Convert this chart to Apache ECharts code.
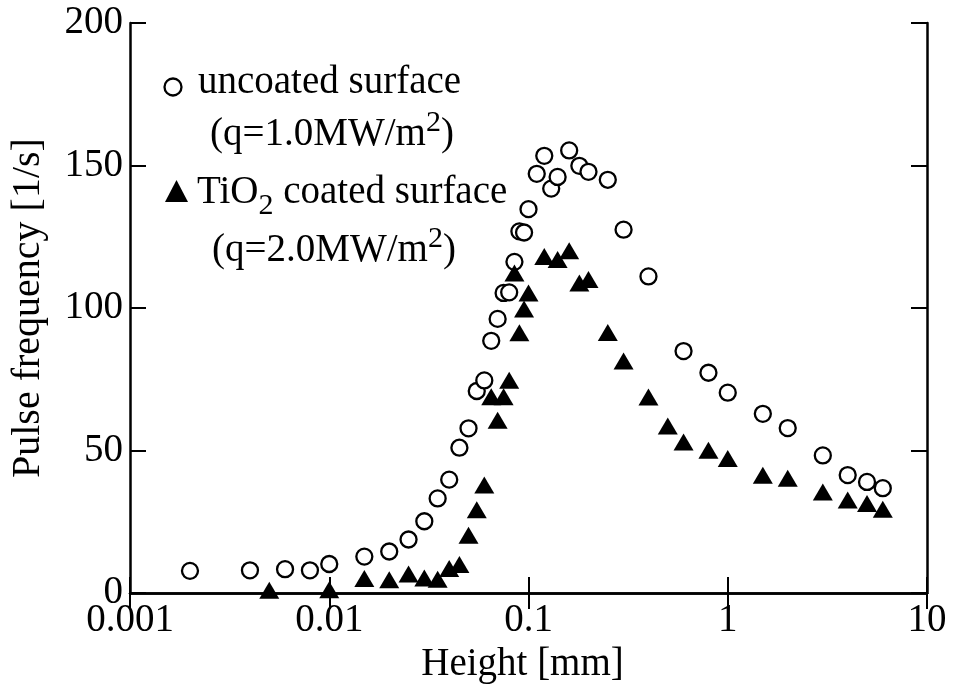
<!DOCTYPE html>
<html>
<head>
<meta charset="utf-8">
<title>Pulse frequency vs height</title>
<script src="https://cdn.jsdelivr.net/npm/echarts@6/dist/echarts.min.js"></script>
<style>
  html, body { margin: 0; padding: 0; background: #fff; }
  #chart { width: 953px; height: 689px; }
</style>
</head>
<body>
<div id="chart"></div>
<script>
// uncoated surface (q=1.0MW/m2)
var uncoatedX = [0.002, 0.004, 0.006, 0.008, 0.01, 0.015, 0.02, 0.025, 0.03, 0.035, 0.04, 0.045, 0.05, 0.055, 0.06, 0.065, 0.07, 0.075, 0.08, 0.085, 0.09, 0.095, 0.1, 0.11, 0.12, 0.13, 0.14, 0.16, 0.18, 0.2, 0.25, 0.3, 0.4, 0.6, 0.8, 1, 1.5, 2, 3, 4, 5, 6];
var uncoatedY = [7.8, 8, 8.4, 8, 10.2, 12.8, 14.6, 18.8, 25.2, 33.2, 39.8, 51, 57.8, 70.9, 74.6, 88.5, 96.2, 105.3, 105.5, 116.2, 126.9, 126.5, 134.7, 147.1, 153.4, 141.9, 146, 155.3, 149.9, 147.8, 145, 127.5, 111.1, 84.9, 77.3, 70.3, 62.9, 57.9, 48.3, 41.4, 39, 36.8];
// TiO2 coated surface (q=2.0MW/m2)
var coatedX = [0.005, 0.01, 0.015, 0.02, 0.025, 0.03, 0.035, 0.04, 0.045, 0.05, 0.055, 0.06, 0.065, 0.07, 0.075, 0.08, 0.085, 0.09, 0.095, 0.1, 0.12, 0.14, 0.16, 0.18, 0.2, 0.25, 0.3, 0.4, 0.5, 0.6, 0.8, 1, 1.5, 2, 3, 4, 5, 6];
var coatedY = [1, 1.2, 5.1, 4.7, 6.7, 5.3, 4.9, 8.6, 10, 20.3, 29.2, 37.9, 68.9, 60.6, 68.9, 74.7, 112.3, 91.3, 99.7, 105.3, 118.1, 117, 120.1, 108.8, 110, 91.4, 81.4, 68.8, 58.6, 53, 50.1, 47.2, 41.3, 40.3, 35.5, 32.7, 31.4, 29.4];
// tick labels
var xTickLabels = ['0.001', '0.01', '0.1', '1', '10'];
var yTickLabels = ['0', '50', '100', '150', '200'];

var FONT = '"Liberation Serif", "Times New Roman", serif';
var FS = 39;

function pairs(xs, ys) {
  return xs.map(function (x, i) { return [x, ys[i]]; });
}

var chart = echarts.init(document.getElementById('chart'));

var axisLine = { show: true, lineStyle: { color: '#000', width: 2.5 } };
var axisTick = { show: true, inside: true, length: 16, lineStyle: { color: '#000', width: 2 } };

var option = {
  backgroundColor: '#fff',
  animation: false,
  grid: { left: 130, right: 26, top: 23, bottom: 95, containLabel: false },
  xAxis: [
    {
      type: 'log',
      logBase: 10,
      min: 0.001,
      max: 10,
      position: 'bottom',
      name: 'Height [mm]',
      nameLocation: 'middle',
      nameGap: 50,
      nameTextStyle: { fontFamily: FONT, fontSize: FS, color: '#000', padding: [0, 12, 0, 0] },
      axisLine: axisLine,
      axisTick: axisTick,
      minorTick: { show: false },
      splitLine: { show: false },
      axisLabel: {
        color: '#000', fontFamily: FONT, fontSize: FS, margin: 8,
        formatter: function (v) { return xTickLabels[Math.round(Math.log10(v)) + 3]; }
      }
    },
    {
      type: 'log',
      logBase: 10,
      min: 0.001,
      max: 10,
      position: 'top',
      axisLine: axisLine,
      axisTick: axisTick,
      splitLine: { show: false },
      axisLabel: { show: false }
    }
  ],
  yAxis: [
    {
      type: 'value',
      min: 0,
      max: 200,
      interval: 50,
      position: 'left',
      name: 'Pulse frequency [1/s]',
      nameLocation: 'middle',
      nameGap: 82,
      nameTextStyle: { fontFamily: FONT, fontSize: FS + 1, color: '#000' },
      axisLine: axisLine,
      axisTick: axisTick,
      splitLine: { show: false },
      axisLabel: {
        color: '#000', fontFamily: FONT, fontSize: FS, margin: 7,
        formatter: function (v) { return yTickLabels[Math.round(v / 50)]; }
      }
    },
    {
      type: 'value',
      min: 0,
      max: 200,
      interval: 50,
      position: 'right',
      axisLine: axisLine,
      axisTick: axisTick,
      splitLine: { show: false },
      axisLabel: { show: false }
    }
  ],
  series: [
    {
      name: 'uncoated surface',
      type: 'scatter',
      xAxisIndex: 0,
      yAxisIndex: 0,
      clip: false,
      symbol: 'circle',
      symbolSize: 16,
      itemStyle: { color: '#fff', borderColor: '#000', borderWidth: 2.3, opacity: 1 },
      data: pairs(uncoatedX, uncoatedY)
    },
    {
      name: 'TiO2 coated surface',
      type: 'scatter',
      xAxisIndex: 0,
      yAxisIndex: 0,
      clip: false,
      symbol: 'triangle',
      symbolSize: [20, 17],
      itemStyle: { color: '#000', opacity: 1 },
      data: pairs(coatedX, coatedY)
    }
  ],
  graphic: [
    // legend icons
    { type: 'circle', shape: { cx: 173, cy: 87, r: 8.5 }, style: { fill: '#fff', stroke: '#000', lineWidth: 2.3 } },
    { type: 'polygon', shape: { points: [[176.5, 180], [188, 202], [165, 202]] }, style: { fill: '#000' } },
    // legend texts
    {
      type: 'text', x: 198, y: 83,
      style: { text: 'uncoated surface', fontFamily: FONT, fontSize: FS, fill: '#000', verticalAlign: 'middle' }
    },
    {
      type: 'text', x: 210, y: 135,
      style: {
        text: '{n|(q=1.0MW/m}{sup|2}{n|)}', fontFamily: FONT, fontSize: FS, fill: '#000', verticalAlign: 'middle',
        rich: {
          n: { fontFamily: FONT, fontSize: FS, fill: '#000', verticalAlign: 'middle' },
          sup: { fontFamily: FONT, fontSize: 30, fill: '#000', verticalAlign: 'middle', padding: [0, 0, 24, 0] }
        }
      }
    },
    {
      type: 'text', x: 197, y: 193,
      style: {
        text: '{n|TiO}{sub|2}{n| coated surface}', fontFamily: FONT, fontSize: FS, fill: '#000', verticalAlign: 'middle',
        rich: {
          n: { fontFamily: FONT, fontSize: FS, fill: '#000', verticalAlign: 'middle' },
          sub: { fontFamily: FONT, fontSize: 30, fill: '#000', verticalAlign: 'middle', padding: [26, 0, 0, 0] }
        }
      }
    },
    {
      type: 'text', x: 212, y: 251,
      style: {
        text: '{n|(q=2.0MW/m}{sup|2}{n|)}', fontFamily: FONT, fontSize: FS, fill: '#000', verticalAlign: 'middle',
        rich: {
          n: { fontFamily: FONT, fontSize: FS, fill: '#000', verticalAlign: 'middle' },
          sup: { fontFamily: FONT, fontSize: 30, fill: '#000', verticalAlign: 'middle', padding: [0, 0, 24, 0] }
        }
      }
    }
  ]
};

chart.setOption(option);
</script>
</body>
</html>
